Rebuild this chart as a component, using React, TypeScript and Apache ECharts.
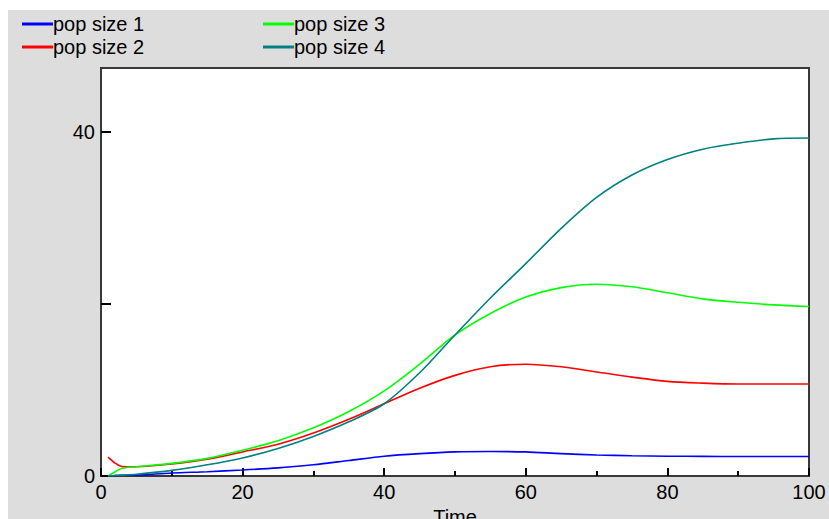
import React, { useEffect, useRef } from "react";
import * as echarts from "echarts";

const times = [1, 2, 3, 5, 10, 15, 20, 25, 30, 35, 40, 45, 50, 55, 60, 65, 70, 75, 80, 85, 90, 95, 100];
const pop1 = [0.0, 0.05, 0.08, 0.1, 0.35, 0.5, 0.7, 0.95, 1.3, 1.8, 2.3, 2.6, 2.8, 2.85, 2.8, 2.6, 2.45, 2.35, 2.3, 2.28, 2.27, 2.27, 2.27];
const pop2 = [2.2, 1.5, 1.1, 1.08, 1.4, 1.95, 2.8, 3.7, 5.0, 6.6, 8.4, 10.2, 11.7, 12.7, 13.0, 12.7, 12.1, 11.5, 11.0, 10.8, 10.7, 10.7, 10.7];
const pop3 = [0.0, 0.5, 0.9, 1.08, 1.47, 2.05, 3.0, 4.1, 5.6, 7.5, 9.9, 13.0, 16.4, 18.9, 20.8, 21.9, 22.3, 22.0, 21.3, 20.6, 20.2, 19.9, 19.7];
const pop4 = [0.0, 0.05, 0.1, 0.2, 0.65, 1.3, 2.1, 3.2, 4.6, 6.3, 8.4, 12.0, 16.4, 20.7, 24.7, 28.8, 32.4, 35.0, 36.8, 38.0, 38.7, 39.2, 39.3];

const seriesNames = ["pop size 1", "pop size 2", "pop size 3", "pop size 4"];
const seriesValues = [pop1, pop2, pop3, pop4];
const seriesColors = ["#0000ff", "#ff0000", "#00ff00", "#008080"];
const xTicks = { min: 0, max: 100, interval: 20 };
const yLabelled = [0, 40];

const FONT = "'Liberation Sans', Arial, sans-serif";

export default function App() {
  const ref = useRef<HTMLDivElement>(null);
  useEffect(() => {
    if (!ref.current) return;
    document.body.style.overflow = "hidden";
    const chart = echarts.init(ref.current, null, { renderer: "svg" });
    const legendCommon = {
      orient: "vertical" as const,
      top: -1,
      itemWidth: 31,
      itemHeight: 3,
      itemGap: 3,
      icon: "rect",
      textStyle: { fontFamily: FONT, fontSize: 20, color: "#000", lineHeight: 20, padding: [0, 0, 0, -5] },
      selectedMode: false,
    };
    chart.setOption({
      animation: false,
      backgroundColor: "#dddddd",
      legend: [
        { ...legendCommon, left: 9, data: seriesNames.slice(0, 2) },
        { ...legendCommon, left: 250, data: seriesNames.slice(2, 4) },
      ],
      grid: {
        left: 93,
        right: 20,
        top: 58,
        bottom: 43,
        outerBoundsMode: "none",
        containLabel: false,
        show: true,
        backgroundColor: "#ffffff",
        borderColor: "#383838",
        borderWidth: 2,
      },
      xAxis: {
        type: "value",
        min: xTicks.min,
        max: xTicks.max,
        interval: xTicks.interval,
        name: "Time",
        nameLocation: "middle",
        nameGap: 22,
        nameTextStyle: { fontFamily: FONT, fontSize: 20, color: "#000" },
        axisLine: { lineStyle: { color: "#383838", width: 2 } },
        axisTick: { inside: true, length: 8, lineStyle: { color: "#000", width: 2 } },
        minorTick: { show: true, splitNumber: 2, length: 5, lineStyle: { color: "#000", width: 2 } },
        axisLabel: { fontFamily: FONT, fontSize: 20, color: "#000", margin: 6 },
        splitLine: { show: false },
      },
      yAxis: {
        type: "value",
        min: 0,
        max: 47.44,
        interval: 20,
        axisLine: { show: true, lineStyle: { color: "#383838", width: 2 } },
        axisTick: { show: true, inside: true, length: 10, lineStyle: { color: "#000", width: 2 } },
        axisLabel: {
          fontFamily: FONT,
          fontSize: 20,
          color: "#000",
          margin: 6,
          showMaxLabel: false,
          formatter: (v: number) => (yLabelled.includes(v) ? String(v) : ""),
        },
        splitLine: { show: false },
      },
      series: seriesNames.map((name, i) => ({
        name,
        type: "line",
        data: times.map((t, j) => [t, seriesValues[i][j]]),
        showSymbol: false,
        smooth: 0.3,
        lineStyle: { color: seriesColors[i], width: 1.6 },
        itemStyle: { color: seriesColors[i] },
      })),
    });
    return () => chart.dispose();
  }, []);
  return (
    <div
      ref={ref}
      style={{ position: "absolute", left: 8, top: 10, width: 821, height: 509 }}
    />
  );
}
